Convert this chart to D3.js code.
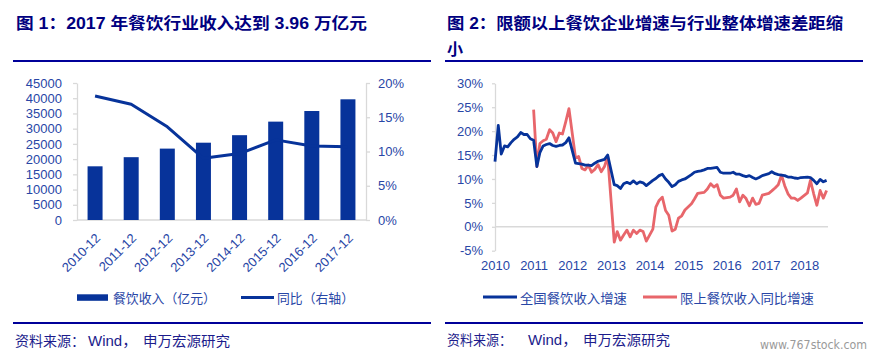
<!DOCTYPE html>
<html><head><meta charset="utf-8">
<script src="https://cdn.jsdelivr.net/npm/d3@7/dist/d3.min.js"></script>
<style>body{margin:0;background:#fff}svg{display:block}</style>
</head><body>
<svg id="c" width="883" height="357"></svg>
<script>
// ---------- Chart 1 data ----------
const years = ["2010-12","2011-12","2012-12","2013-12","2014-12","2015-12","2016-12","2017-12"];
const revenue = [17636, 20635, 23448, 25392, 27860, 32310, 35799, 39644];
const yoy = [18.1, 16.9, 13.6, 9.0, 9.7, 11.7, 10.8, 10.7];
const leftTicks = [0,5000,10000,15000,20000,25000,30000,35000,40000,45000];
const rightTicks = [0,5,10,15,20];

// ---------- Chart 2 data (monthly, 2010-01 .. 2018-08; null = no January print) ----------
const monthStart = new Date(2010,0,1);
const national = [
  13.6,21.2,15.2,16.9,16.7,17.6,18.3,18.8,19.7,19.3,19.3,18.4,
  18.1,12.6,15.5,16.9,17.2,17.4,17.0,16.8,17.0,17.1,17.6,18.6,
  null,13.3,13.2,13.1,12.9,12.9,12.8,13.3,13.7,13.9,14.1,15.0,
  null,8.8,8.6,8.0,9.0,9.3,9.0,9.6,9.0,9.4,9.2,8.6,
  null,9.7,10.1,10.7,11.0,10.0,9.3,8.4,8.8,9.5,9.8,10.0,
  null,10.9,11.4,11.6,11.7,11.9,12.2,12.2,12.3,12.4,11.4,11.2,
  null,11.2,11.4,11.0,11.0,10.7,10.5,10.7,10.3,10.0,10.3,10.7,
  null,11.1,11.5,11.1,10.9,10.8,10.7,10.4,10.4,10.2,10.1,10.3,
  null,10.4,10.3,9.7,9.0,9.9,9.4,9.7
];
const aboveLimit = [
  null,null,null,null,null,null,null,null,null,null,null,null,
  24.5,12.6,17.4,18.0,18.3,20.3,19.6,17.8,19.6,19.4,22.0,24.7,
  null,14.4,14.7,12.2,11.9,12.9,11.4,12.0,13.0,11.5,12.6,14.7,
  null,-3.2,-1.0,-2.8,-1.7,-0.7,-2.1,-0.7,-1.4,-0.7,-1.0,-3.0,
  null,-0.5,4.1,5.5,6.2,3.4,2.4,-0.9,-0.5,1.8,2.3,3.5,
  null,4.8,5.8,7.0,7.1,7.2,7.9,9.0,8.3,8.8,6.6,6.0,
  null,6.2,6.6,7.9,5.2,6.6,5.9,4.4,6.0,4.7,4.9,6.6,
  null,7.0,7.5,8.1,8.8,10.8,8.6,6.9,6.0,6.0,5.5,6.0,
  null,7.1,9.7,6.9,4.5,7.6,6.0,7.6
];
const yTicks2 = [-5,0,5,10,15,20,25,30];
const yearLabels = [2010,2011,2012,2013,2014,2015,2016,2017,2018];

// ---------- styles ----------
const BLUE = "#07339a", RED = "#e8666b", GRID = "#d9d9d9", TXT = "#2846a6", NAVY = "#00007f";
const LAT = "'Liberation Sans', Arial, 'Noto Sans CJK SC', sans-serif";
const CJK = "'Noto Sans CJK SC', 'Liberation Sans', sans-serif";

const svg = d3.select("#c");

function txt(x, y, s, opts) {
  const t = svg.append("text").attr("x", x).attr("y", y).text(s)
    .attr("font-family", opts.family || CJK).attr("font-size", opts.size || 13)
    .attr("fill", opts.fill || TXT);
  if (opts.weight) t.attr("font-weight", opts.weight);
  if (opts.len) t.attr("textLength", opts.len).attr("lengthAdjust", "spacingAndGlyphs");
  return t;
}

// ---------- titles & rules ----------
txt(16, 28.5, "图 1：2017 年餐饮行业收入达到 3.96 万亿元", {family: LAT, size: 16, weight: "bold", fill: NAVY, len: 351});
txt(447, 28.5, "图 2：限额以上餐饮企业增速与行业整体增速差距缩", {family: LAT, size: 16, weight: "bold", fill: NAVY, len: 396});
txt(447, 54.5, "小", {family: CJK, size: 16, weight: "bold", fill: NAVY});
[[13,431,61],[445,863,61],[13,431,323],[445,863,323]].forEach(([a,b,y]) =>
  svg.append("line").attr("x1",a).attr("x2",b).attr("y1",y).attr("y2",y).attr("stroke","#000099").attr("stroke-width",2.2));

// ---------- Chart 1 ----------
const x1 = d3.scaleBand().domain(years).range([77, 366]).paddingInner(0.585).paddingOuter(0.2925);
const yL = d3.scaleLinear().domain([0, 45000]).range([220, 83]);
const yR = d3.scaleLinear().domain([0, 20]).range([220, 83]);

function styleAxis(g) {
  g.selectAll("path.domain").attr("stroke", GRID).attr("stroke-width", 1.3);
  g.selectAll(".tick line").attr("stroke", GRID).attr("stroke-width", 1.3);
  g.selectAll("text").attr("fill", TXT).attr("font-family", LAT).attr("font-size", 13);
}
const gL = svg.append("g").attr("transform", "translate(77,0)")
  .call(d3.axisLeft(yL).tickValues(leftTicks).tickSize(4).tickSizeOuter(0).tickPadding(11).tickFormat(d3.format("d")));
styleAxis(gL);
const gR = svg.append("g").attr("transform", "translate(366,0)")
  .call(d3.axisRight(yR).tickValues(rightTicks).tickSize(4).tickSizeOuter(0).tickPadding(8).tickFormat(d => d + "%"));
styleAxis(gR);
const gB = svg.append("g").attr("transform", "translate(0,220)")
  .call(d3.axisBottom(x1).tickSize(0).tickSizeOuter(0));
styleAxis(gB);
gB.select("path.domain").attr("d", "M77,0H366");
gB.selectAll("text").attr("x", 0).attr("y", 0).attr("dy", 0)
  .attr("text-anchor", "end").attr("transform", "translate(6,19) rotate(-45)");

svg.append("g").selectAll("rect").data(years).join("rect")
  .attr("x", d => x1(d)).attr("width", x1.bandwidth())
  .attr("y", (d,i) => yL(revenue[i])).attr("height", (d,i) => 220 - yL(revenue[i]))
  .attr("fill", BLUE);

svg.append("path").datum(yoy)
  .attr("d", d3.line().x((d,i) => x1(years[i]) + x1.bandwidth()/2).y(d => yR(d)))
  .attr("fill", "none").attr("stroke", BLUE).attr("stroke-width", 3).attr("stroke-linejoin", "round");

// legend 1
svg.append("rect").attr("x", 77).attr("y", 294.3).attr("width", 31).attr("height", 6.5).attr("fill", BLUE);
txt(113, 303.3, "餐饮收入（亿元）", {size: 13, len: 103});
svg.append("line").attr("x1", 241).attr("x2", 274).attr("y1", 297.5).attr("y2", 297.5).attr("stroke", BLUE).attr("stroke-width", 3);
txt(277, 303.3, "同比（右轴）", {size: 13, len: 77});

// ---------- Chart 2 ----------
const months = national.map((d,i) => d3.timeMonth.offset(monthStart, i));
const x2 = d3.scaleTime().domain([months[0], months[months.length-1]]).range([495, 826.6]);
const y2 = d3.scaleLinear().domain([-5, 30]).range([250.7, 83.3]);

const gY2 = svg.append("g").attr("transform", "translate(495,0)")
  .call(d3.axisLeft(y2).tickValues(yTicks2).tickSize(3).tickSizeOuter(0).tickPadding(9).tickFormat(d => d + "%"));
styleAxis(gY2);
svg.append("line").attr("x1", 495).attr("x2", 828).attr("y1", y2(0)).attr("y2", y2(0)).attr("stroke", GRID).attr("stroke-width", 1.5);

const gX2 = svg.append("g").attr("transform", "translate(0,251)")
  .call(d3.axisBottom(x2).tickValues(yearLabels.map(y => new Date(y,0,1))).tickSize(0).tickPadding(10).tickFormat(d3.timeFormat("%Y")));
styleAxis(gX2);
gX2.select("path.domain").remove();

const line2 = d3.line().x(d => x2(d.t)).y(d => y2(d.v));
function series(arr) { return arr.map((v,i) => ({t: months[i], v})).filter(d => d.v !== null); }
svg.append("path").datum(series(aboveLimit)).attr("d", line2)
  .attr("fill", "none").attr("stroke", RED).attr("stroke-width", 2.8).attr("stroke-linejoin", "round");
svg.append("path").datum(series(national)).attr("d", line2)
  .attr("fill", "none").attr("stroke", BLUE).attr("stroke-width", 2.8).attr("stroke-linejoin", "round");

// legend 2
svg.append("line").attr("x1", 483).attr("x2", 517).attr("y1", 297).attr("y2", 297).attr("stroke", BLUE).attr("stroke-width", 3);
txt(520, 302.5, "全国餐饮收入增速", {size: 13, len: 107});
svg.append("line").attr("x1", 643).attr("x2", 677).attr("y1", 297).attr("y2", 297).attr("stroke", RED).attr("stroke-width", 3);
txt(680, 302.5, "限上餐饮收入同比增速", {size: 13, len: 134});

// ---------- footers ----------
const FOOT = "#1c1c8c";
txt(15, 345.5, "资料来源：", {size: 14, fill: FOOT, len: 70});
txt(88, 345.5, "Wind，", {family: LAT, size: 15, fill: FOOT});
txt(143, 345.5, "申万宏源研究", {size: 14, fill: FOOT, len: 87});
txt(447, 345, "资料来源：", {size: 14, fill: FOOT, len: 65});
txt(528, 345, "Wind，", {family: LAT, size: 15, fill: FOOT});
txt(583, 345, "申万宏源研究", {size: 14, fill: FOOT, len: 87});
txt(760, 349, "www.767stock.com", {family: "'DejaVu Sans', sans-serif", size: 12, fill: "#9a9a9a", len: 107});
</script>
</body></html>
